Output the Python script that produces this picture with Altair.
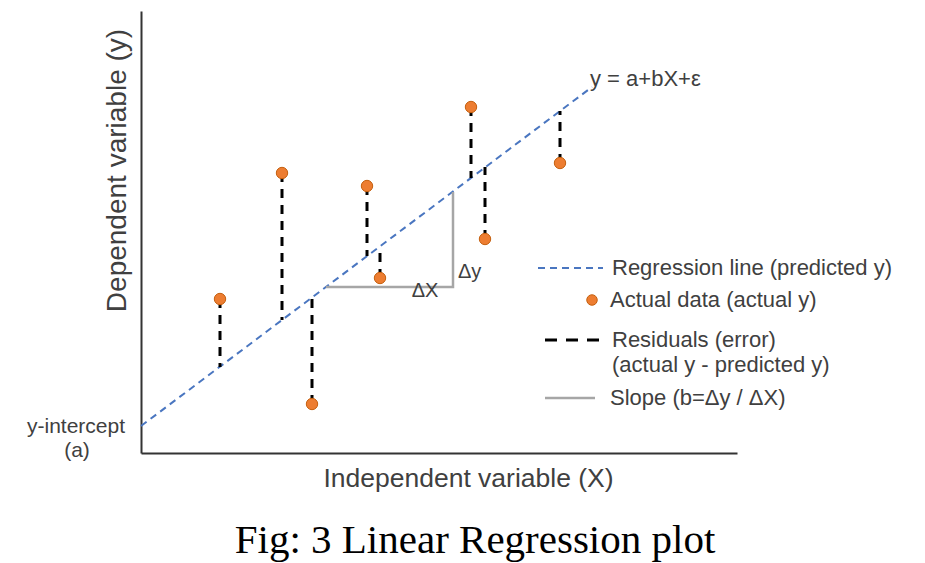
import altair as alt
import pandas as pd

# ---- data (units, origin at the axes' corner) ----
pt_x = [79, 141, 171, 226, 239, 330, 344, 419]
pt_y = [154, 280, 49, 267, 175, 346, 214, 290]
pt_pred = [86, 133, 156, 197, 207, 275, 286, 342]

reg_x = [0, 451]
reg_y = [27, 366]

slope_x = [185, 312, 312]
slope_y = [166, 166, 261]

ann_text = ["ΔX", "Δy", "y = a+bX+ε", "y-intercept", "(a)"]
ann_x = [284, 317, 449, -65, -64]
ann_y = [162, 181, 374, 26, 2]
ann_align = ["center", "left", "left", "center", "center"]
ann_size = [20, 20, 22, 21, 21]

leg_text = ["Regression line (predicted y)", "Actual data (actual y)",
            "Residuals (error)", "(actual y - predicted y)", "Slope (b=Δy / ΔX)"]
leg_tx = [471, 469, 471, 471, 469]
leg_ty = [185, 153, 113, 88, 55]

leg_sym_x = [[397, 462], [404, 460], [404, 454]]
leg_sym_y = [185, 113, 55]
leg_dot_x = [451]
leg_dot_y = [153]

caption = "Fig: 3 Linear Regression plot"

TXT = "#404040"
FONT = "Liberation Sans"

pts = pd.DataFrame({"x": pt_x, "y": pt_y, "pred": pt_pred})
reg = pd.DataFrame({"x": reg_x, "y": reg_y})
slope = pd.DataFrame({"x": slope_x, "y": slope_y, "o": [0, 1, 2]})
ann = pd.DataFrame({"t": ann_text, "x": ann_x, "y": ann_y, "a": ann_align, "s": ann_size})
leg = pd.DataFrame({"t": leg_text, "x": leg_tx, "y": leg_ty})

xs = alt.Scale(domain=[0, 596], nice=False, zero=False)
ys = alt.Scale(domain=[0, 442], nice=False, zero=False)

XA = alt.X("x:Q", scale=xs, axis=alt.Axis(
    title="Independent variable (X)", labels=False, ticks=False, grid=False,
    domainColor="#333333", domainWidth=2, titleFont=FONT, titleFontSize=26.5,
    titleFontWeight="normal", titleColor=TXT, titleX=327, titleY=25,
    titleBaseline="middle", titleAlign="center"))
YA = alt.Y("y:Q", scale=ys, axis=alt.Axis(
    title="Dependent variable (y)", labels=False, ticks=False, grid=False,
    domainColor="#333333", domainWidth=2, titleFont=FONT, titleFontSize=28,
    titleFontWeight="normal", titleColor=TXT, titleX=-24, titleY=159,
    titleBaseline="middle", titleAlign="center", titleAngle=-90))
XP = alt.X("x:Q", scale=xs)
YP = alt.Y("y:Q", scale=ys)

reg_line = alt.Chart(reg).mark_line(color="#4A76C0", strokeWidth=2,
                                    strokeDash=[7, 5]).encode(x=XA, y=YA)

slope_line = alt.Chart(slope).mark_line(color="#A6A6A6", strokeWidth=2.5).encode(
    x=XP, y=YP, order="o:Q")

resid = alt.Chart(pts).mark_rule(color="black", strokeWidth=3,
                                 strokeDash=[9, 7]).encode(x=XP, y=YP, y2="pred:Q")

dots = alt.Chart(pts).mark_circle(size=130, color="#ED7D31", opacity=1,
                                  stroke="#C5600F", strokeWidth=1).encode(x=XP, y=YP)

ann_layers = []
for al in ["center", "left"]:
    for sz in sorted(set(ann_size)):
        sub = ann[(ann.a == al) & (ann.s == sz)]
        if len(sub):
            ann_layers.append(alt.Chart(sub).mark_text(
                font=FONT, fontSize=sz, color=TXT, baseline="middle", align=al).encode(
                x=XP, y=YP, text="t:N"))

leg_txt = alt.Chart(leg).mark_text(font=FONT, fontSize=22, color=TXT,
                                   baseline="middle", align="left").encode(
    x=XP, y=YP, text="t:N")

sym_reg = alt.Chart(pd.DataFrame({"x": leg_sym_x[0], "y": [leg_sym_y[0]] * 2})).mark_line(
    color="#4A76C0", strokeWidth=2, strokeDash=[7, 5]).encode(x=XP, y=YP)
sym_res = alt.Chart(pd.DataFrame({"x": leg_sym_x[1], "y": [leg_sym_y[1]] * 2})).mark_line(
    color="black", strokeWidth=3, strokeDash=[12, 9]).encode(x=XP, y=YP)
sym_slope = alt.Chart(pd.DataFrame({"x": leg_sym_x[2], "y": [leg_sym_y[2]] * 2})).mark_line(
    color="#A6A6A6", strokeWidth=2.5).encode(x=XP, y=YP)
sym_dot = alt.Chart(pd.DataFrame({"x": leg_dot_x, "y": leg_dot_y})).mark_circle(
    size=110, color="#ED7D31", opacity=1, stroke="#C5600F", strokeWidth=1).encode(
    x=XP, y=YP)

cap = alt.Chart(pd.DataFrame({"t": [caption], "x": [334], "y": [-100]})).mark_text(
    font="Liberation Serif", fontSize=41, color="black", align="center",
    baseline="alphabetic").encode(x=XP, y=YP, text="t:N")

chart = alt.layer(
    reg_line, slope_line, resid, dots, *ann_layers, leg_txt,
    sym_reg, sym_res, sym_slope, sym_dot, cap
).properties(
    width=596, height=442,
    autosize=alt.AutoSizeParams(type="none"),
    padding={"left": 133, "top": 3, "right": 175, "bottom": 109},
    background="white",
).configure_view(stroke=None)

chart.save("out.html", embed_options={"renderer": "svg", "actions": False})
